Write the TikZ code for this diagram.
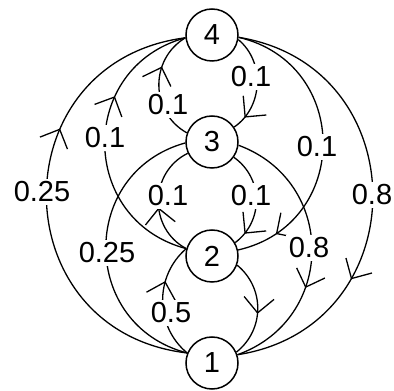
\documentclass[tikz,border=0pt]{standalone}
\usepackage{fontspec}
\setmainfont{Liberation Sans}
\usetikzlibrary{arrows.meta,decorations.markings}
\tikzset{
  state/.style={circle, draw, line width=1.5pt, minimum size=52pt, inner sep=0pt,
    font=\fontsize{29}{30}\selectfont},
  edge/.style={line width=1.3pt},
  prob/.style={fill=white, inner sep=2.5pt, font=\fontsize{29}{30}\selectfont},
  tipat/.style={postaction={decorate, decoration={markings,
    mark=at position #1 with {\arrow{Straight Barb[length=15pt,width=30pt]}}}}},
}
\begin{document}
\begin{tikzpicture}[x=1pt,y=1pt]
\useasboundingbox (0,0) rectangle (394,391);

% states
\node[state] (n4) at (212,356) {4};
\node[state] (n3) at (212,249) {3};
\node[state] (n2) at (212,135) {2};
\node[state] (n1) at (212,28) {1};

% transitions on the left
\draw[edge, tipat=0.65] (n1.158) to[bend left=83, distance=188pt] (n4.186);
\draw[edge, tipat=0.67] (n2.164) to[bend left=75, distance=112pt] (n4.186);
\draw[edge, tipat=0.67] (n3.160) to[bend left=60, distance=42pt] (n4.186);
\draw[edge] (n1.158) to[bend left=75, distance=111pt] (n3.182);
\draw[edge, tipat=0.44] (n2.164) to[bend left=63, distance=43pt] (n3.205);
\draw[edge, tipat=0.67] (n1.158) to[bend left=50, distance=42pt] (n2.164);

% transitions on the right
\draw[edge, tipat=0.86] (n4.350) to[bend left=53, distance=35pt] (n3.34);
\draw[edge, tipat=0.86] (n4.355) to[bend left=77, distance=116pt] (n2.13);
\draw[edge, tipat=0.69] (n4.355) to[bend left=81, distance=182pt] (n1.18);
\draw[edge, tipat=0.87] (n3.325) to[bend left=54, distance=36pt] (n2.30);
\draw[edge, tipat=0.64] (n3.353) to[bend left=70, distance=105pt] (n1.18);
\draw[edge, tipat=0.55] (n2.340) to[bend left=51, distance=36pt] (n1.24);

% probabilities
\node[prob] (p14) at (42,199) {0.25};
\node[prob] (p24) at (105,253) {0.1};
\node[prob] (p34) at (168,286) {0.1};
\node[prob] (p13) at (107,138) {0.25};
\node[prob] (p23) at (168,195) {0.1};
\node[prob] (p12) at (171,78) {0.5};
\node[prob] (p43) at (251,314) {0.1};
\node[prob] (p42) at (317,244) {0.1};
\node[prob] (p41) at (372,196) {0.8};
\node[prob] (p32) at (251,195) {0.1};
\node[prob] (p31) at (309,143) {0.8};
\end{tikzpicture}
\end{document}
